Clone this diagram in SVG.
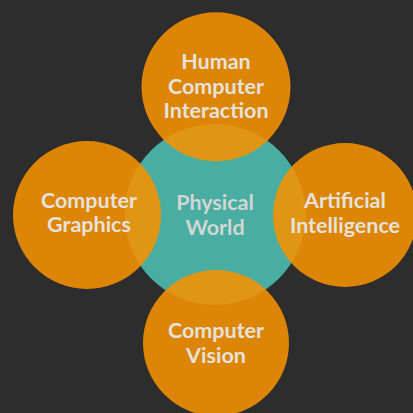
<svg xmlns="http://www.w3.org/2000/svg" width="413" height="413" viewBox="0 0 413 413">
  <style>
    .core { fill: #4aada1; }
    .field { fill: #f59201; fill-opacity: 0.88; }
    text { font-family: Lato, "Noto Sans", "DejaVu Sans", sans-serif; font-weight: 700; font-size: 21.5px; text-anchor: middle; }
    .lbl { fill: #e6e2dc; }
    .core-lbl { fill: #d2d6d4; }
  </style>
  <rect width="413" height="413" fill="#2d2d2d"/>
  <g id="connectors"/>
  <g id="physical-world">
    <circle class="core" cx="215" cy="214.5" r="90.5"/>
  </g>
  <g id="human-computer-interaction">
    <circle class="field" cx="216" cy="86.7" r="74.5"/>
  </g>
  <g id="computer-graphics">
    <circle class="field" cx="87" cy="215" r="74"/>
  </g>
  <g id="artificial-intelligence">
    <circle class="field" cx="345" cy="215" r="72"/>
  </g>
  <g id="computer-vision">
    <circle class="field" cx="216" cy="343" r="73"/>
  </g>
  <g id="labels">
    <text class="core-lbl" x="215" y="210">Physical</text>
    <text class="core-lbl" x="215" y="235">World</text>
    <text class="lbl" x="216" y="69">Human</text>
    <text class="lbl" x="216" y="93.5">Computer</text>
    <text class="lbl" x="216" y="118">Interaction</text>
    <text class="lbl" x="89" y="208.3">Computer</text>
    <text class="lbl" x="89" y="232">Graphics</text>
    <text class="lbl" x="345" y="208">Artificial</text>
    <text class="lbl" x="345" y="233">Intelligence</text>
    <text class="lbl" x="216" y="338">Computer</text>
    <text class="lbl" x="216" y="363">Vision</text>
  </g>
</svg>
